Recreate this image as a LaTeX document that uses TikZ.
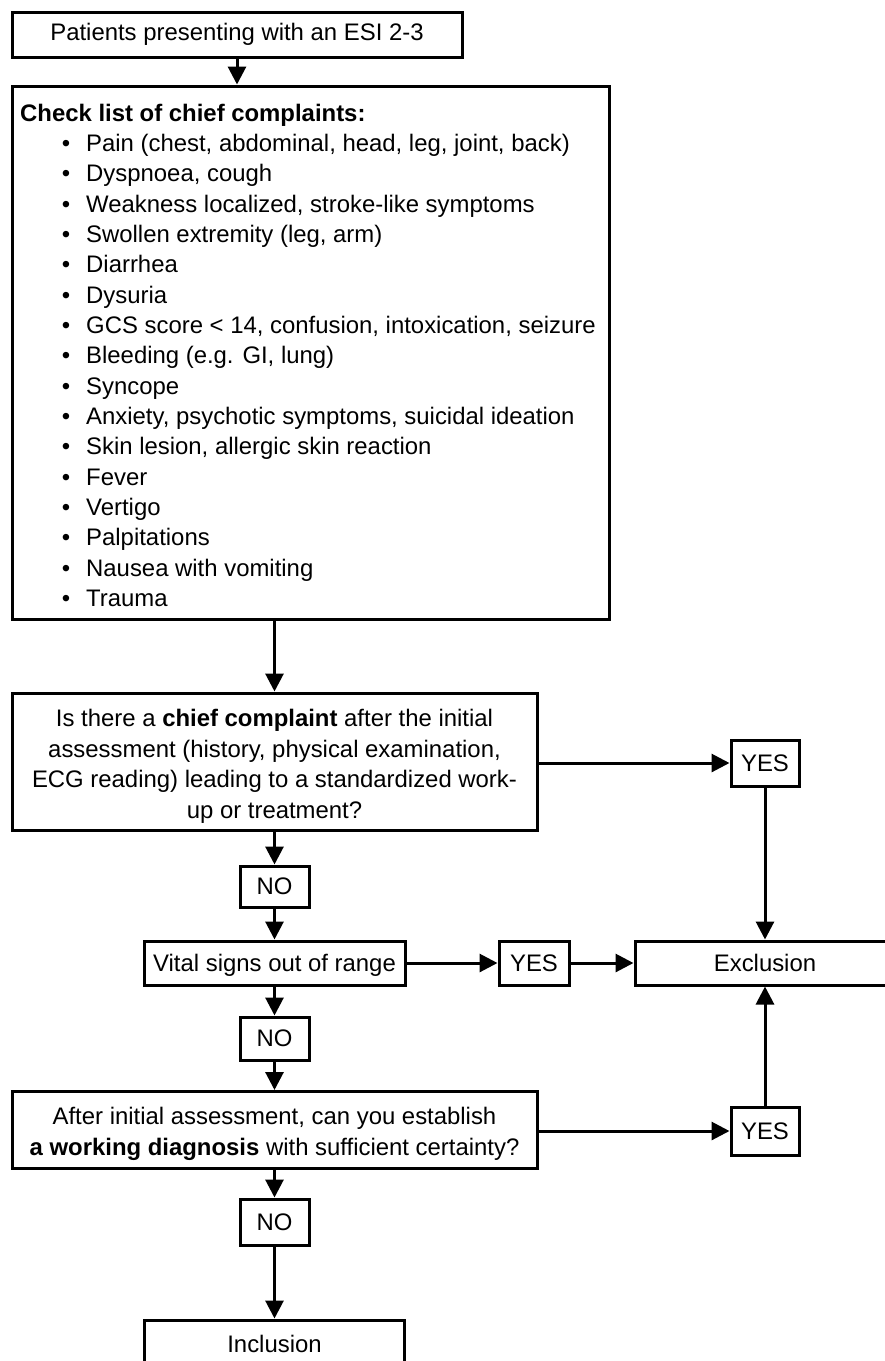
\documentclass[tikz,border=0pt]{standalone}
\usepackage{fontspec}
\setmainfont{Liberation Sans}
\usetikzlibrary{arrows.meta}
\newcommand\myfs{\fontsize{23.9}{30.6}\selectfont}
\begin{document}
\begin{tikzpicture}[x=1pt,y=-1pt,
  box/.style={draw,line width=3pt,inner sep=0pt,align=center,font=\myfs},
  txt/.style={inner sep=0pt,font=\myfs},
  arr/.style={line width=3pt,-{Triangle[length=18pt,width=18pt]}},
  ln/.style={line width=3pt}]
\useasboundingbox (0,0) rectangle (885,1361);
\fill[white] (0,0) rectangle (885,1361);
\clip (0,0) rectangle (885,1361);
% boxes
\node[box,minimum width=450pt,minimum height=45pt] (start) at (237,34.5) {Patients presenting with an ESI 2-3};
\node[box,minimum width=597pt,minimum height=533pt] (list) at (310.5,352.5) {};
\node[txt,anchor=base west] (title) at (20,121.5) {\bfseries Check list of chief complaints:};
\foreach [count=\i from 0] \t in {
  {Pain (chest, abdominal, head, leg, joint, back)},
  {Dyspnoea, cough},
  {Weakness localized, stroke-like symptoms},
  {Swollen extremity (leg, arm)},
  {Diarrhea},
  {Dysuria},
  {GCS score < 14, confusion, intoxication, seizure},
  {Bleeding (e.g. GI, lung)},
  {Syncope},
  {Anxiety, psychotic symptoms, suicidal ideation},
  {Skin lesion, allergic skin reaction},
  {Fever},
  {Vertigo},
  {Palpitations},
  {Nausea with vomiting},
  {Trauma}} {
  \node[txt,anchor=base] (bul\i) at (66,151.5+30.33*\i) {•};
  \node[txt,anchor=base west] (item\i) at (86,151.5+30.33*\i) {\t};
}
\node[box,minimum width=525pt,minimum height=137pt] (q1) at (274.5,761.5) {};
\node[txt,align=center] (q1t) at ([yshift=-5pt]q1.center)
  {Is there a \textbf{chief complaint} after the initial\\assessment (history, physical examination,\\ECG reading) leading to a standardized work-\\up or treatment?};
\node[box,minimum width=68pt,minimum height=46pt] (yes1) at (765,763) {YES};
\node[box,minimum width=69pt,minimum height=41pt] (no1) at (274.5,886.5) {NO};
\node[box,minimum width=261pt,minimum height=44pt] (vital) at (274.5,963) {};
\node[txt] (vitalt) at ([yshift=-2pt]vital.center) {Vital signs out of range};
\node[box,minimum width=70pt,minimum height=44pt] (yes2) at (534,963) {YES};
\node[box,minimum width=260pt,minimum height=44pt] (excl) at (765,963) {Exclusion};
\node[box,minimum width=69pt,minimum height=43pt] (no2) at (274.5,1038.5) {NO};
\node[box,minimum width=525pt,minimum height=77pt] (q2) at (274.5,1130) {};
\node[txt,align=center] (q2t) at ([yshift=-4pt]q2.center)
  {After initial assessment, can you establish\\\textbf{a working diagnosis} with sufficient certainty?};
\node[box,minimum width=68pt,minimum height=48pt] (yes3) at (765,1131) {YES};
\node[box,minimum width=69pt,minimum height=46pt] (no3) at (274.5,1222) {NO};
\node[box,minimum width=260pt,minimum height=48pt] (incl) at (274.5,1344) {Inclusion};
% connectors
\draw[arr] (start.south) -- (start.south |- list.north);
\draw[arr] (q1.north |- list.south) -- (q1.north);
\draw[arr] (q1.east |- yes1.west) -- (yes1.west);
\draw[arr] (yes1.south) -- (excl.north);
\draw[arr] (q1.south) -- (no1.north);
\draw[arr] (no1.south) -- (vital.north);
\draw[arr] (vital.east) -- (yes2.west);
\draw[arr] (yes2.east) -- (excl.west);
\draw[arr] (vital.south) -- (no2.north);
\draw[arr] (no2.south) -- (q2.north);
\draw[arr] (q2.east |- yes3.west) -- (yes3.west);
\draw[arr] (yes3.north) -- (excl.south);
\draw[arr] (q2.south) -- (no3.north);
\draw[arr] (no3.south) -- (incl.north);
\end{tikzpicture}
\end{document}
